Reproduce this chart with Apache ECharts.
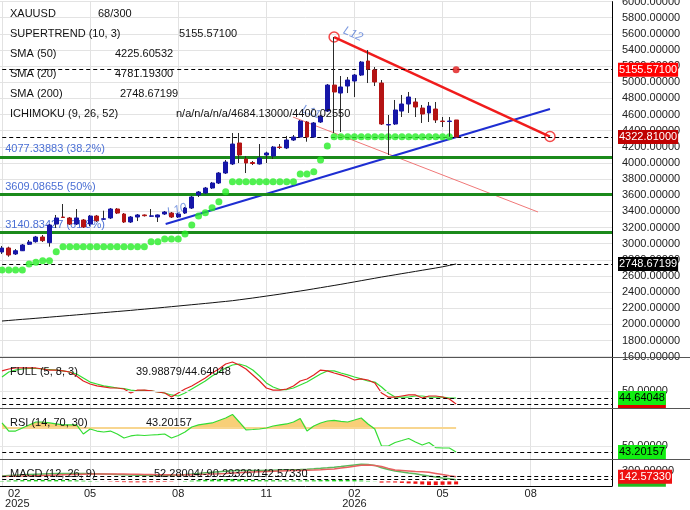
<!DOCTYPE html>
<html><head><meta charset="utf-8">
<script src="https://cdn.jsdelivr.net/npm/echarts@6/dist/echarts.min.js"></script>
<style>html,body{margin:0;padding:0;background:#fff}#c{width:690px;height:510px}</style>
</head><body><div id="c"></div>
<script>
// ---------------- data ----------------
const legendNames  = ['XAUUSD','SUPERTREND (10, 3)','SMA (50)','SMA (20)','SMA (200)','ICHIMOKU (9, 26, 52)'];
const legendValues = ['68/300','5155.57100','4225.60532','4781.19300','2748.67199','n/a/n/a/n/a/4684.13000/4400.02550'];
const paneNames  = ['FULL (5, 8, 3)','RSI (14, 70, 30)','MACD (12, 26, 9)'];
const paneValues = ['39.98879/44.64048','43.20157','52.28004/-90.29326/142.57330'];

const tickDates  = ['2025-01-27','2025-04-28','2025-07-28','2025-10-27','2026-01-26','2026-04-27','2026-07-27'];
const tickLabels = ['02\n2025','05','08','11','02\n2026','05','08'];

const opens  = [2897,2947,2873,2913,2993,3025,3083,3013,3244,3331, 3319,3244,3294,3244,3343,3303,3319,3430,3368,3269, 3331,3356,3340,3331,3368,3380,3331,3380,3442,3604, 3628,3690,3752,3876,3988,4248,4050,4006,3988,4099, 4087,4198,4186,4285,4322,4508,4322,4508,4644,4966, 4867,4954,5016,5090,5264,5152,4991,4471,4483,4644, 4731,4756,4681,4620,4669,4520,4514,4533];
const closes = [2947,2860,2913,2984,3021,3083,3038,3232,3319,3325, 3244,3319,3207,3343,3285,3309,3430,3380,3269,3331, 3356,3347,3345,3356,3393,3331,3368,3442,3579,3641, 3690,3752,3876,4012,4235,4099,4000,3994,4062,4124, 4198,4192,4285,4322,4520,4322,4496,4582,4966,4880, 4942,5028,5090,5251,5165,5004,4483,4477,4657,4731, 4818,4694,4607,4706,4533,4514,4520,4322.81];
const lows   = [2873,2839,2860,2910,2984,3013,3021,2963,3195,3319, 3232,3232,3195,3219,3269,3294,3306,3368,3257,3257, 3281,3337,3331,3269,3356,3319,3319,3368,3430,3579, 3616,3678,3740,3864,3975,4000,3876,3975,3981,4000, 4050,4173,4173,4273,4310,4264,4310,4496,4632,4372, 4384,4867,4818,5078,4991,4954,4471,4099,4471,4570, 4620,4570,4496,4508,4496,4446,4326,4322.81];
const highs  = [2972,2963,2934,2996,3046,3096,3108,3244,3356,3492, 3331,3430,3306,3356,3356,3409,3442,3442,3380,3343, 3368,3362,3430,3362,3405,3393,3380,3455,3591,3653, 3703,3765,3888,4037,4372,4372,4087,4025,4235,4140, 4211,4235,4335,4347,4533,4520,4508,4595,4979,5561, 5078,5066,5103,5264,5400,5189,5028,4595,4781,4843, 4880,4805,4719,4756,4756,4570,4570,4533];

const supertrend = [2674,2674,2674,2674,2749,2770,2790,2790,2901,2963, 2963,2963,2963,2963,2963,2963,2963,2963,2963,2963, 2963,2963,3025,3025,3058,3058,3058,3120,3232,3343, 3384,3446,3520,3644,3768,3768,3768,3768,3768,3768, 3768,3768,3768,3768,3864,3864,3892,4037,4211,4326, 4326,4326,4326,4326,4326,4326,4326,4326,4326,4326, 4326,4326,4326,4326,4326,4326,4326,5155.571];
const supertrendBearishFrom = 67;

const sma200 = [2042,2049,2056,2063,2069,2076,2083,2090,2097,2104, 2111,2118,2125,2132,2139,2146,2153,2160,2167,2174, 2182,2189,2197,2204,2212,2220,2228,2236,2244,2252, 2260,2268,2277,2285,2294,2305,2316,2327,2339,2351, 2363,2375,2388,2401,2414,2427,2441,2455,2469,2483, 2497,2512,2527,2542,2557,2572,2587,2601,2615,2629, 2643,2657,2671,2685,2699,2714,2731,2748.67199];

const fibLevels = [4077.33883, 3609.08655, 3140.83427];
const fibRatios = ['38.2%', '50%', '61.8%'];

// trend lines: [weekIndex, price]
const lineL10 = [[24.15, 3244], [80.85, 4669]];
const lineL11 = [[42.93, 4570], [79.08, 3393]];
const lineL12 = [[49, 5561], [80.85, 4328]];
const lineNames = ['L10', 'L11', 'L12'];
const lineLabelAt = [[25.8, 3418], [45.6, 4632], [51.8, 5598]];

const stochK = [65.6,67.1,67.9,67.9,67.9,67.9,67.1,66.3,66.3,65.6, 64.8,61.7,57.8,55.5,54.0,53.2,52.4,52.4,51.6,48.5, 50.8,50.8,50.1,49.3,48.5,45.4,48.5,51.6,54.0,57.0, 60.1,64.0,67.1,71.0,72.5,70.2,67.1,62.5,57.8,52.4, 50.8,50.8,51.6,54.0,57.8,59.4,62.5,66.3,65.6,64.0, 62.5,60.9,58.6,59.4,58.6,56.3,48.5,45.4,45.4,46.2, 47.0,47.0,44.6,46.2,46.2,45.4,43.9,39.98879];
const stochD = [60.9,64.8,66.3,67.1,67.5,67.5,67.1,66.7,66.3,65.6, 64.8,63.2,60.1,57.0,55.5,54.0,53.2,52.4,52.0,50.8, 50.1,50.5,50.1,49.3,48.5,47.0,46.2,48.5,51.6,54.7, 57.8,61.7,64.8,67.9,70.2,71.0,69.4,66.3,61.7,56.3, 53.2,51.2,51.2,52.4,54.7,57.0,60.1,63.2,65.6,65.6, 64.0,62.5,60.9,59.4,57.8,57.0,53.2,48.5,45.4,45.4, 45.4,46.2,46.2,45.4,45.4,45.4,44.6,44.64048];

const rsi = [75.6,66.6,66.6,70.0,73.4,76.7,76.7,75.6,74.5,73.4, 73.4,73.4,63.3,68.9,66.6,65.5,66.6,63.3,58.8,61.1, 62.2,61.6,62.2,62.7,63.3,58.8,61.6,65.5,71.1,73.4, 74.5,75.6,78.4,81.2,85.1,76.7,67.8,68.3,68.9,70.0, 72.2,73.4,74.5,76.7,80.6,66.6,72.2,75.6,77.8,78.4, 77.3,76.7,78.9,81.2,74.5,68.9,49.9,49.9,53.8,56.0, 58.3,54.4,51.0,53.8,48.2,47.7,47.7,43.20157];
const rsiUpper = 70;

const macd = [160,175,188,200,210,218,225,230,235,238, 240,240,236,232,228,222,214,205,198,190, 185,182,180,180,182,186,194,206,222,240, 258,275,290,305,320,325,326,327,330,334, 338,343,348,353,360,368,378,392,408,425, 445,470,495,513,505,480,411,360,312,285, 255,228,195,162,130,103,78,52.28004];
const signal = [150,152,156,161,167,173,180,186,192,198, 204,210,215,219,222,224,224,222,220,217, 213,209,205,201,198,196,195,196,199,204, 211,219,228,238,250,262,272,281,290,298, 305,312,318,324,330,337,344,352,361,372, 400,425,455,485,490,475,447,390,345,330, 315,300,287,273,240,205,172,142.5733];

// ---------------- build ----------------
const NCAT = 92;
const cats = [];
const t0 = Date.UTC(2025, 0, 20);
for (let k = 0; k < NCAT; k++) cats.push(new Date(t0 + k * 7 * 864e5).toISOString().slice(0, 10));
const catData = cats.map(c => c === tickDates[0] ? {value: c, textStyle: {align: 'left'}} : c);

const pad = a => ['-'].concat(a);
const ohlc = opens.map((o, i) => [o, closes[i], lows[i], highs[i]]);
const bodies = opens.map((o, i) => [o, closes[i], Math.min(o, closes[i]), Math.max(o, closes[i])]);
const hist = macd.map((m, i) => m - signal[i]);
const last = a => a[a.length - 1];
const f5 = v => v.toFixed(5);

const isTick = (idx, val) => tickDates.indexOf(val) >= 0;
const fmtTick = (val) => {
  const j = tickDates.indexOf(val);
  if (j < 0) return '';
  const s = tickLabels[j];
  if (j === 0) return s.split('\n').map((p, n) => (n ? ' ' : '  ') + p).join('\n');
  return s;
};

const UP = '#1616a8', DN = '#b41414', WICK = '#2a2a2a';
const FONT = '"Liberation Sans", Arial, sans-serif';

function catAxis(gi) {
  return {
    type: 'category', gridIndex: gi, data: catData, boundaryGap: false,
    axisLine: {show: gi === 3, onZero: false, lineStyle: {color: '#000'}}, axisTick: {show: false},
    axisLabel: {show: gi === 3, interval: isTick, formatter: fmtTick, fontSize: 11, color: '#222', lineHeight: 10, margin: 3},
    splitLine: {show: true, interval: isTick, lineStyle: {color: '#e2e2e2'}}
  };
}
function tag(v, bg, fg, dy) {
  return {
    yAxis: v, lineStyle: {color: '#000', width: 1, type: [4, 3]},
    label: {show: true, position: 'end', formatter: f5(v), backgroundColor: bg, color: fg,
      fontSize: 11, padding: [2, 1, 1, 1], distance: 6, offset: [0, dy || 0]}
  };
}
const gridBase = {left: -4.778, width: 616.778, containLabel: false, outerBoundsMode: 'none'};
function yAx(gi, min, max, extra) {
  return Object.assign({
    type: 'value', gridIndex: gi, position: 'right', min, max,
    axisLine: {show: true, onZero: false, lineStyle: {color: '#000'}}, axisTick: {show: false},
    axisLabel: {fontSize: 11, color: '#222', margin: 10, formatter: v => f5(v)},
    splitLine: {show: false}
  }, extra || {});
}
const lbl = cv => ({fontSize: 11, color: '#222', margin: 10, formatter: v => f5(v), customValues: cv});

const graphics = [];
[357.5, 408.5, 459.5].forEach(y => graphics.push({type: 'line', shape: {x1: 0, y1: y, x2: 690, y2: y}, style: {stroke: '#555', lineWidth: 1}, z: 50}));
const legendValX = [98, 179, 115, 115, 120, 176];
legendNames.forEach((n, j) => {
  graphics.push({type: 'text', x: 10, y: 14 + j * 20, z: 100, style: {text: n, fill: '#111', font: '11px ' + FONT, verticalAlign: 'middle'}});
  graphics.push({type: 'text', x: legendValX[j], y: 14 + j * 20, z: 100, style: {text: legendValues[j], fill: '#111', font: '11px ' + FONT, verticalAlign: 'middle'}});
});
const paneY = [372, 423, 474], paneValX = [136, 146, 154];
paneNames.forEach((n, j) => {
  graphics.push({type: 'text', x: 10, y: paneY[j], z: 100, style: {text: n, fill: '#111', font: '11px ' + FONT, verticalAlign: 'middle'}});
  graphics.push({type: 'text', x: paneValX[j], y: paneY[j], z: 100, style: {text: paneValues[j], fill: '#111', font: '11px ' + FONT, verticalAlign: 'middle'}});
});

const option = {
  animation: false,
  textStyle: {fontFamily: FONT},
  grid: [
    Object.assign({top: 1.6, height: 355.1}, gridBase),
    Object.assign({top: 357, height: 51}, gridBase),
    Object.assign({top: 408, height: 51}, gridBase),
    Object.assign({top: 459, height: 27}, gridBase)
  ],
  xAxis: [catAxis(0), catAxis(1), catAxis(2), catAxis(3),
    {type: 'value', gridIndex: 0, min: -1, max: NCAT - 2, show: false, axisLine: {onZero: false}}],
  yAxis: [
    yAx(0, 1600, 6000, {interval: 200, splitLine: {show: true, lineStyle: {color: '#e3e3e3'}}}),
    yAx(1, 36.9, 76.4, {axisLabel: lbl([50])}),
    yAx(2, 35.4, 92.3, {axisLabel: lbl([50])}),
    yAx(3, -138, 672, {axisLabel: lbl([300])})
  ],
  graphic: graphics,
  series: [
    {type: 'line', name: 'SMA200', xAxisIndex: 0, yAxisIndex: 0, data: pad(sma200), symbol: 'none',
      lineStyle: {color: '#111', width: 1}, z: 2,
      markLine: {silent: true, symbol: 'none', animation: false, data: [
        ...fibLevels.map((v, j) => ({yAxis: v, lineStyle: {color: '#1b8a1b', width: 3, type: 'solid'},
          label: {show: true, position: 'insideStartTop', formatter: f5(v) + ' (' + fibRatios[j] + ')', color: '#4a6fd4', fontSize: 11, distance: [10, 2]}})),
        tag(last(sma200), '#000', '#fff'),
        tag(last(closes), '#c00000', '#fff'),
        tag(last(supertrend), '#ff0000', '#fff')
      ]}},
    {type: 'line', xAxisIndex: 4, yAxisIndex: 0, data: lineL11, symbol: 'none', lineStyle: {color: '#f07878', width: 1}, z: 3},
    {type: 'line', xAxisIndex: 4, yAxisIndex: 0, data: lineL10, symbol: 'none', lineStyle: {color: '#1e2ed2', width: 2}, z: 3},
    {type: 'line', xAxisIndex: 4, yAxisIndex: 0, data: lineL12, symbol: 'none', lineStyle: {color: '#f01c1c', width: 2.5}, z: 3},
    {type: 'scatter', xAxisIndex: 4, yAxisIndex: 0, data: [lineL12[0], lineL12[1]], symbolSize: 10,
      itemStyle: {color: 'rgba(255,255,255,0)', borderColor: '#f01c1c', borderWidth: 1.5}, z: 4},
    {type: 'scatter', xAxisIndex: 4, yAxisIndex: 0, symbolSize: 1, itemStyle: {color: 'rgba(0,0,0,0)'}, z: 4,
      data: lineLabelAt.map((p, j) => ({value: p, label: {show: true, position: 'inside', formatter: lineNames[j],
        rotate: [17, -21, -24][j], color: '#5b80d8', fontStyle: 'italic', fontSize: 12}}))},
    {type: 'scatter', xAxisIndex: 0, yAxisIndex: 0, symbolSize: 7, itemStyle: {color: '#25ee25'}, z: 5,
      data: pad(supertrend.map((v, i) => i < supertrendBearishFrom ? v : '-'))},
    {type: 'scatter', xAxisIndex: 0, yAxisIndex: 0, symbolSize: 7, itemStyle: {color: '#e01818'}, z: 5,
      data: pad(supertrend.map((v, i) => i >= supertrendBearishFrom ? v : '-'))},
    {type: 'candlestick', xAxisIndex: 0, yAxisIndex: 0, data: [['-','-','-','-']].concat(ohlc), barWidth: 1,
      itemStyle: {color: WICK, color0: WICK, borderColor: WICK, borderColor0: WICK, borderWidth: 1}, z: 6},
    {type: 'candlestick', xAxisIndex: 0, yAxisIndex: 0, data: [['-','-','-','-']].concat(bodies), barWidth: 4.4,
      itemStyle: {color: UP, color0: DN, borderColor: UP, borderColor0: DN, borderWidth: 1}, z: 7},

    // stochastic
    {type: 'line', xAxisIndex: 1, yAxisIndex: 1, data: pad(stochD), symbol: 'none', lineStyle: {color: '#33dd33', width: 1.2}, z: 3,
      markLine: {silent: true, symbol: 'none', animation: false, data: [
        {yAxis: 50, lineStyle: {color: '#e6e6e6', width: 1, type: 'solid'}, label: {show: false}},
        tag(last(stochK), '#dd0000', '#fff', -3),
        tag(last(stochD), '#11ee11', '#000')
      ]}},
    {type: 'line', xAxisIndex: 1, yAxisIndex: 1, data: pad(stochK), symbol: 'none', lineStyle: {color: '#e02020', width: 1.2}, z: 4},

    // RSI
    {type: 'line', xAxisIndex: 2, yAxisIndex: 2, data: pad(rsi.map(() => rsiUpper)), stack: 'rsi', symbol: 'none',
      lineStyle: {color: '#f8d690', width: 2}, z: 2,
      markLine: {silent: true, symbol: 'none', animation: false, data: [
        {yAxis: 50, lineStyle: {color: '#e6e6e6', width: 1, type: 'solid'}, label: {show: false}},
        tag(last(rsi), '#11ee11', '#000')
      ]}},
    {type: 'line', xAxisIndex: 2, yAxisIndex: 2, data: pad(rsi.map(v => Math.max(v - rsiUpper, 0))), stack: 'rsi', symbol: 'none',
      lineStyle: {width: 0}, areaStyle: {color: '#f8cf78', opacity: 1}, z: 2},
    {type: 'line', xAxisIndex: 2, yAxisIndex: 2, data: pad(rsi), symbol: 'none', lineStyle: {color: '#33dd33', width: 1.2}, z: 4},

    // MACD
    {type: 'bar', xAxisIndex: 3, yAxisIndex: 3, data: pad(hist), barWidth: 4, z: 2,
      itemStyle: {color: p => p.value > 0 ? '#22cc22' : '#ee1111'}},
    {type: 'line', xAxisIndex: 3, yAxisIndex: 3, data: pad(macd), symbol: 'none', lineStyle: {color: '#5cb85c', width: 1.5}, z: 3,
      markLine: {silent: true, symbol: 'none', animation: false, data: [
        tag(last(macd), '#22bb22', '#fff'),
        tag(last(signal), '#ee1111', '#fff')
      ]}},
    {type: 'line', xAxisIndex: 3, yAxisIndex: 3, data: pad(signal), symbol: 'none', lineStyle: {color: '#e86060', width: 1.5}, z: 3}
  ]
};
const chart = echarts.init(document.getElementById('c'), null, {renderer: 'canvas'});
chart.setOption(option);
</script>
</body></html>
